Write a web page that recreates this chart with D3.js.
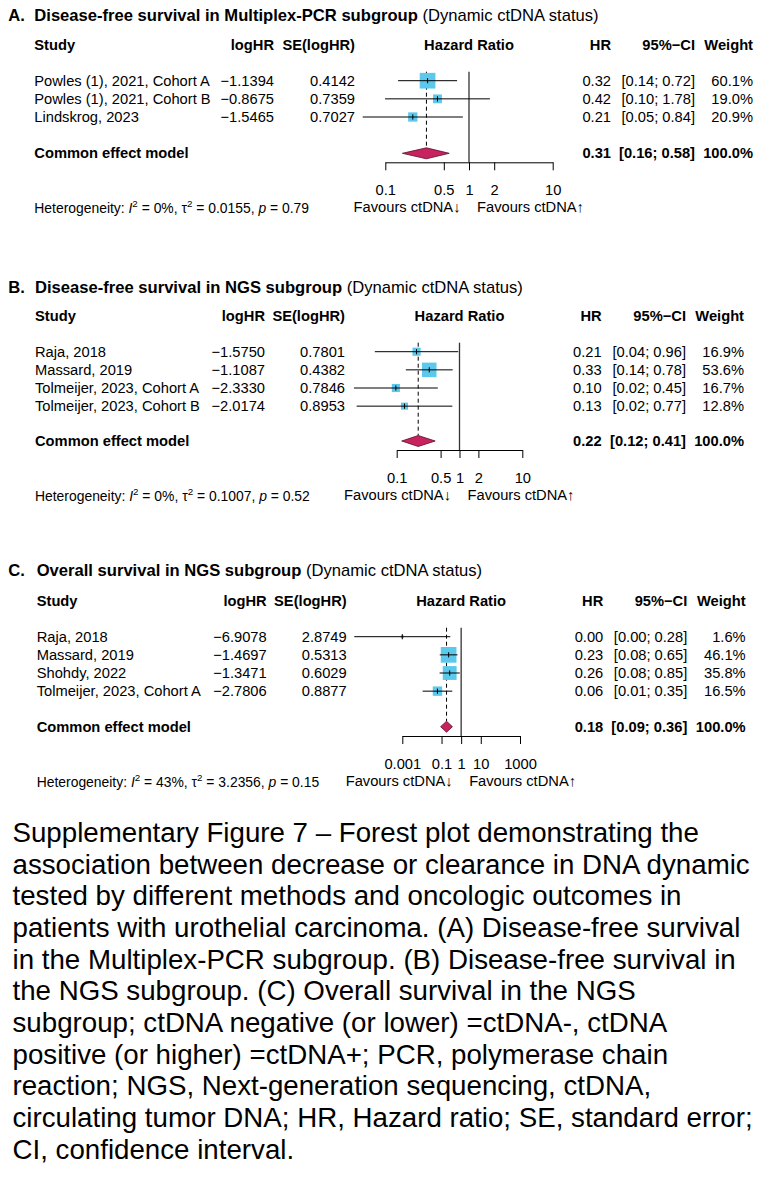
<!DOCTYPE html>
<html><head><meta charset="utf-8">
<script src="https://cdn.jsdelivr.net/npm/d3@7"></script>
<style>
body{margin:0;background:#fff}
svg{display:block}
text{font-family:"Liberation Sans",Arial,Helvetica,sans-serif;fill:#000}
</style>
</head><body>
<svg id="chart" width="762" height="1188"></svg>
<script>
// ---------------- DATA ----------------
const panelLetters = ["A.", "B.", "C."];
const panelTitles = ["Disease-free survival in Multiplex-PCR subgroup",
                     "Disease-free survival in NGS subgroup",
                     "Overall survival in NGS subgroup"];
const titleSuffix = " (Dynamic ctDNA status)";

const studiesA = ["Powles (1), 2021, Cohort A", "Powles (1), 2021, Cohort B", "Lindskrog, 2023"];
const logHRA   = ["−1.1394", "−0.8675", "−1.5465"];
const seA      = ["0.4142", "0.7359", "0.7027"];
const hrA      = ["0.32", "0.42", "0.21"];
const ciLowA   = ["0.14", "0.10", "0.05"];
const ciHighA  = ["0.72", "1.78", "0.84"];
const weightA  = [60.1, 19.0, 20.9];

const studiesB = ["Raja, 2018", "Massard, 2019", "Tolmeijer, 2023, Cohort A", "Tolmeijer, 2023, Cohort B"];
const logHRB   = ["−1.5750", "−1.1087", "−2.3330", "−2.0174"];
const seB      = ["0.7801", "0.4382", "0.7846", "0.8953"];
const hrB      = ["0.21", "0.33", "0.10", "0.13"];
const ciLowB   = ["0.04", "0.14", "0.02", "0.02"];
const ciHighB  = ["0.96", "0.78", "0.45", "0.77"];
const weightB  = [16.9, 53.6, 16.7, 12.8];

const studiesC = ["Raja, 2018", "Massard, 2019", "Shohdy, 2022", "Tolmeijer, 2023, Cohort A"];
const logHRC   = ["−6.9078", "−1.4697", "−1.3471", "−2.7806"];
const seC      = ["2.8749", "0.5313", "0.6029", "0.8877"];
const hrC      = ["0.00", "0.23", "0.26", "0.06"];
const ciLowC   = ["0.00", "0.08", "0.08", "0.01"];
const ciHighC  = ["0.28", "0.65", "0.85", "0.35"];
const weightC  = [1.6, 46.1, 35.8, 16.5];

const pooledHR   = ["0.31", "0.22", "0.18"];
const pooledLow  = ["0.16", "0.12", "0.09"];
const pooledHigh = ["0.58", "0.41", "0.36"];

const hetI2   = ["0%", "0%", "43%"];
const hetTau2 = ["0.0155", "0.1007", "3.2356"];
const hetP    = ["0.79", "0.52", "0.15"];

const ticksA = [0.1, 0.5, 1, 2, 10];
const ticksB = [0.1, 0.5, 1, 2, 10];
const ticksC = [0.001, 0.1, 1, 10, 1000];
const domainA = [0.1, 10], domainB = [0.1, 10], domainC = [0.001, 1000];

const captionLines = [
 "Supplementary Figure 7 – Forest plot demonstrating the",
 "association between decrease or clearance in DNA dynamic",
 "tested by different methods and oncologic outcomes in",
 "patients with urothelial carcinoma. (A) Disease-free survival",
 "in the Multiplex-PCR subgroup. (B) Disease-free survival in",
 "the NGS subgroup. (C) Overall survival in the NGS",
 "subgroup; ctDNA negative (or lower) =ctDNA-, ctDNA",
 "positive (or higher) =ctDNA+; PCR, polymerase chain",
 "reaction; NGS, Next-generation sequencing, ctDNA,",
 "circulating tumor DNA; HR, Hazard ratio; SE, standard error;",
 "CI, confidence interval."
];

// ---------------- LAYOUT ----------------
const panels = [
  {studies: studiesA, logHR: logHRA, se: seA, hr: hrA, lo: ciLowA, hi: ciHighA, w: weightA,
   ticks: ticksA, domain: domainA,
   y: {title: 15, header: 45, row1: 80.7, cem: 153.3, axis: 162.3},
   x: {study: 34.3, logHR: 274, se: 355, ax0: 385.3, ax1: 552.7, hr: 611, ci: 695, w: 753}, box: 15.7},
  {studies: studiesB, logHR: logHRB, se: seB, hr: hrB, lo: ciLowB, hi: ciHighB, w: weightB,
   ticks: ticksB, domain: domainB,
   y: {title: 286.7, header: 315.7, row1: 351.7, cem: 441, axis: 450},
   x: {study: 35, logHR: 265, se: 345, ax0: 396.7, ax1: 522.3, hr: 601.7, ci: 686, w: 744}, box: 14.5},
  {studies: studiesC, logHR: logHRC, se: seC, hr: hrC, lo: ciLowC, hi: ciHighC, w: weightC,
   ticks: ticksC, domain: domainC,
   y: {title: 570, header: 600.7, row1: 636.7, cem: 726.7, axis: 736},
   x: {study: 36.7, logHR: 266.7, se: 346.7, ax0: 402.3, ax1: 520, hr: 603.3, ci: 687.3, w: 745.7}, box: 15.7}
];
const rowStep = 18.15;
const FS = 14.7, FS_TITLE = 16.6, FS_HET = 13.9;
const BOX = "#5cc8ec", DIA = "#c8235e", DIA_STROKE = "#5a0e2a";
const num = s => +String(s).replace("−", "-");

const svg = d3.select("#chart");
svg.append("rect").attr("width", 762).attr("height", 1188).attr("fill", "#fff");

panels.forEach((p, pi) => {
  const g = svg.append("g");
  const x = d3.scaleLog().domain(p.domain).range([p.x.ax0, p.x.ax1]);
  const rowY = i => p.y.row1 + i * rowStep;
  const ref = x(1);
  const txt = (xx, yy, s, anchor, bold, size) => g.append("text")
      .attr("x", xx).attr("y", yy).attr("dy", "0.35em")
      .attr("text-anchor", anchor || "start")
      .attr("font-weight", bold ? "bold" : "normal")
      .attr("font-size", size || FS).text(s);

  // title
  txt(8.3, p.y.title, panelLetters[pi], "start", true, FS_TITLE);
  const t = g.append("text").attr("x", p.x.study).attr("y", p.y.title).attr("dy", "0.35em").attr("font-size", FS_TITLE);
  t.append("tspan").attr("font-weight", "bold").text(panelTitles[pi]);
  t.append("tspan").text(titleSuffix);

  // header
  txt(p.x.study, p.y.header, "Study", "start", true);
  txt(p.x.logHR, p.y.header, "logHR", "end", true);
  txt(p.x.se, p.y.header, "SE(logHR)", "end", true);
  txt((p.x.ax0 + p.x.ax1) / 2, p.y.header, "Hazard Ratio", "middle", true);
  txt(p.x.hr, p.y.header, "HR", "end", true);
  txt(p.x.ci, p.y.header, "95%−CI", "end", true);
  txt(p.x.w, p.y.header, "Weight", "end", true);

  // reference line at 1
  g.append("line").attr("x1", ref).attr("x2", ref)
    .attr("y1", p.y.row1 - 9).attr("y2", p.y.axis)
    .attr("stroke", "#333").attr("stroke-width", 1.3);

  // pooled dashed line
  const ph = x(num(pooledHR[pi]));
  const dh = 5.5;
  g.append("line").attr("x1", ph).attr("x2", ph)
    .attr("y1", p.y.row1 - 9).attr("y2", p.y.cem - dh)
    .attr("stroke", "#000").attr("stroke-width", 1).attr("stroke-dasharray", "4,3");

  const wmax = d3.max(p.w);
  p.studies.forEach((s, i) => {
    const y = rowY(i);
    const lhr = num(p.logHR[i]), se = num(p.se[i]);
    const cx = x(Math.exp(lhr));
    const sz = p.box * Math.sqrt(p.w[i] / wmax);
    g.append("rect").attr("x", cx - sz / 2).attr("y", y - sz / 2)
      .attr("width", sz).attr("height", sz).attr("fill", BOX);
    g.append("line").attr("x1", x(Math.exp(lhr - 1.959964 * se))).attr("x2", x(Math.exp(lhr + 1.959964 * se)))
      .attr("y1", y).attr("y2", y).attr("stroke", "#000").attr("stroke-width", 1);
    g.append("line").attr("x1", cx).attr("x2", cx).attr("y1", y - 2.6).attr("y2", y + 2.6)
      .attr("stroke", "#000").attr("stroke-width", 1);

    txt(p.x.study, y, s);
    txt(p.x.logHR, y, p.logHR[i], "end");
    txt(p.x.se, y, p.se[i], "end");
    txt(p.x.hr, y, p.hr[i], "end");
    txt(p.x.ci, y, "[" + p.lo[i] + "; " + p.hi[i] + "]", "end");
    txt(p.x.w, y, p.w[i].toFixed(1) + "%", "end");
  });

  // diamond
  const xl = x(num(pooledLow[pi])), xh = x(num(pooledHigh[pi]));
  g.append("path")
    .attr("d", `M${xl},${p.y.cem}L${ph},${p.y.cem - dh}L${xh},${p.y.cem}L${ph},${p.y.cem + dh}Z`)
    .attr("fill", DIA).attr("stroke", DIA_STROKE).attr("stroke-width", 0.8);
  txt(p.x.study, p.y.cem, "Common effect model", "start", true);
  txt(p.x.hr, p.y.cem, pooledHR[pi], "end", true);
  txt(p.x.ci, p.y.cem, "[" + pooledLow[pi] + "; " + pooledHigh[pi] + "]", "end", true);
  txt(p.x.w, p.y.cem, "100.0%", "end", true);

  // axis
  const axis = d3.axisBottom(x).tickValues(p.ticks).tickFormat(d => String(d))
    .tickSize(8).tickSizeOuter(0).tickPadding(14.5);
  const ag = g.append("g").attr("transform", `translate(0,${p.y.axis})`).call(axis);
  ag.select(".domain").attr("stroke", "#000").attr("stroke-width", 1);
  ag.selectAll(".tick line").attr("stroke", "#000").attr("stroke-width", 1);
  ag.selectAll(".tick text").attr("font-size", FS).attr("fill", "#000")
    .attr("font-family", '"Liberation Sans",Arial,sans-serif');

  // favours labels
  g.append("text").attr("x", ref - 8.5).attr("y", p.y.axis + 49.5).attr("text-anchor", "end")
    .attr("font-size", FS).text("Favours ctDNA↓");
  g.append("text").attr("x", ref + 8).attr("y", p.y.axis + 49.5).attr("text-anchor", "start")
    .attr("font-size", FS).text("Favours ctDNA↑");

  // heterogeneity
  const h = g.append("text").attr("x", p.x.study).attr("y", p.y.axis + 50.5).attr("font-size", FS_HET);
  h.append("tspan").text("Heterogeneity: ");
  h.append("tspan").attr("font-style", "italic").text("I");
  h.append("tspan").attr("font-size", 9.8).attr("dy", -5.7).text("2");
  h.append("tspan").attr("dy", 5.7).text(" = " + hetI2[pi] + ", τ");
  h.append("tspan").attr("font-size", 9.8).attr("dy", -5.7).text("2");
  h.append("tspan").attr("dy", 5.7).text(" = " + hetTau2[pi] + ", ");
  h.append("tspan").attr("font-style", "italic").text("p");
  h.append("tspan").text(" = " + hetP[pi]);
});

// caption
const cap = svg.append("g").attr("transform", "translate(12.5,0)");
cap.selectAll("text").data(captionLines).join("text")
  .attr("x", 0).attr("y", (d, i) => 842 + i * 31.67)
  .attr("font-size", 27.7).text(d => d);
</script>
</body></html>
